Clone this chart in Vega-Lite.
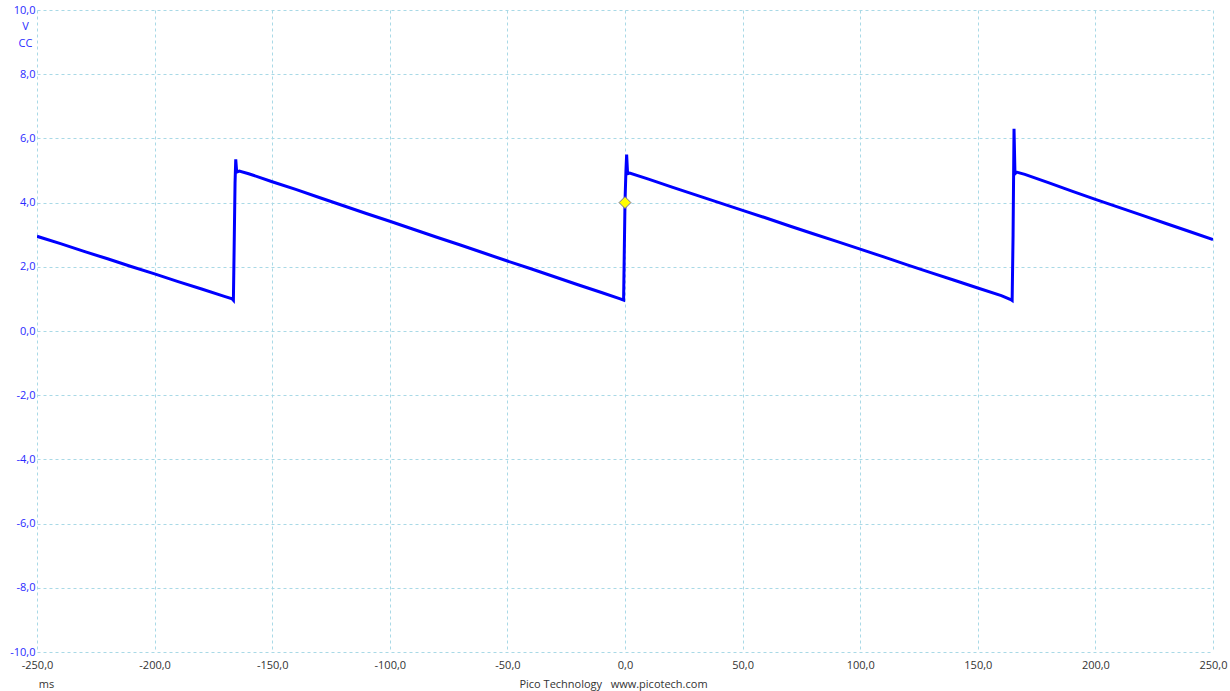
{
  "$schema": "https://vega.github.io/schema/vega-lite/v6.json",
  "autosize": {"type": "none"},
  "padding": {"left": 37, "top": 10, "right": 17, "bottom": 39},
  "width": 1176,
  "height": 642,
  "background": "white",
  "config": {"view": {"stroke": null}, "font": "Open Sans"},
  "datasets": {
    "wave": [
      {"t": -250, "v": 2.95}, {"t": -240, "v": 2.72}, {"t": -230, "v": 2.48}, {"t": -220, "v": 2.25},
      {"t": -210, "v": 2.01}, {"t": -200, "v": 1.78}, {"t": -190, "v": 1.54}, {"t": -180, "v": 1.31},
      {"t": -170, "v": 1.07}, {"t": -167, "v": 1.0}, {"t": -166.5, "v": 0.96}, {"t": -166.2, "v": 2.5},
      {"t": -165.8, "v": 4.6}, {"t": -165.5, "v": 5.35}, {"t": -165.1, "v": 4.95}, {"t": -164, "v": 4.98},
      {"t": -160, "v": 4.9}, {"t": -150, "v": 4.65}, {"t": -140, "v": 4.41}, {"t": -130, "v": 4.16},
      {"t": -120, "v": 3.91}, {"t": -110, "v": 3.66}, {"t": -100, "v": 3.42}, {"t": -90, "v": 3.17},
      {"t": -80, "v": 2.92}, {"t": -70, "v": 2.68}, {"t": -60, "v": 2.43}, {"t": -50, "v": 2.18},
      {"t": -40, "v": 1.94}, {"t": -30, "v": 1.69}, {"t": -20, "v": 1.44}, {"t": -10, "v": 1.2},
      {"t": -2, "v": 1.0}, {"t": -0.6, "v": 0.96}, {"t": 0, "v": 4.0}, {"t": 0.4, "v": 5.0},
      {"t": 0.7, "v": 5.5}, {"t": 1.1, "v": 4.9}, {"t": 2, "v": 4.92}, {"t": 10, "v": 4.73},
      {"t": 20, "v": 4.48}, {"t": 30, "v": 4.24}, {"t": 40, "v": 4.0}, {"t": 50, "v": 3.76},
      {"t": 60, "v": 3.52}, {"t": 70, "v": 3.27}, {"t": 80, "v": 3.03}, {"t": 90, "v": 2.79},
      {"t": 100, "v": 2.55}, {"t": 110, "v": 2.31}, {"t": 120, "v": 2.06}, {"t": 130, "v": 1.82},
      {"t": 140, "v": 1.58}, {"t": 150, "v": 1.34}, {"t": 160, "v": 1.1}, {"t": 164, "v": 0.98},
      {"t": 164.6, "v": 0.95}, {"t": 165, "v": 3.0}, {"t": 165.4, "v": 6.3}, {"t": 165.8, "v": 4.9},
      {"t": 166.5, "v": 4.95}, {"t": 170, "v": 4.88}, {"t": 180, "v": 4.62}, {"t": 190, "v": 4.36},
      {"t": 200, "v": 4.1}, {"t": 210, "v": 3.85}, {"t": 220, "v": 3.6}, {"t": 230, "v": 3.35},
      {"t": 240, "v": 3.1}, {"t": 250, "v": 2.85}
    ],
    "marker": [{"t": 0, "v": 4.0}]
  },
  "resolve": {"axis": {"x": "independent", "y": "independent"}},
  "layer": [
    {
      "data": {"name": "wave"},
      "mark": {"type": "line", "color": "#0000ff", "strokeWidth": 3, "clip": true},
      "encoding": {
        "x": {
          "field": "t", "type": "quantitative",
          "scale": {"domain": [-250, 250], "nice": false, "zero": false},
          "axis": {
            "orient": "bottom",
            "values": [-250, -200, -150, -100, -50, 0, 50, 100, 150, 200, 250],
            "format": ".1f",
            "labelExpr": "replace(replace(datum.label, '.', ','), '\u2212', '-')",
            "labelFlush": false,
            "labelColor": "#333333",
            "labelFontSize": 11,
            "labelFont": "Open Sans",
            "labelPadding": 7,
            "ticks": false,
            "domain": false,
            "grid": true,
            "gridColor": "#a9d9e6",
            "gridDash": [3, 3],
            "gridWidth": 1,
            "title": "Pico Technology\u00a0\u00a0\u00a0www.picotech.com",
            "titleX": 576,
            "titleY": 32,
            "titleAlign": "center",
            "titleBaseline": "middle",
            "titleColor": "#333333",
            "titleFont": "Open Sans",
            "titleFontSize": 11,
            "titleFontWeight": "normal"
          }
        },
        "y": {
          "field": "v", "type": "quantitative",
          "scale": {"domain": [-10, 10], "nice": false, "zero": false},
          "axis": {
            "orient": "left",
            "values": [-10, -8, -6, -4, -2, 0, 2, 4, 6, 8, 10],
            "format": ".1f",
            "labelExpr": "replace(replace(datum.label, '.', ','), '\u2212', '-')",
            "labelFlush": false,
            "labelColor": "#2a2aff",
            "labelFontSize": 11,
            "labelFont": "Open Sans",
            "labelPadding": 2,
            "ticks": false,
            "domain": false,
            "grid": true,
            "gridColor": "#a9d9e6",
            "gridDash": [3, 3],
            "gridWidth": 1,
            "title": ["V", "CC"],
            "titleAngle": 0,
            "titleX": -12,
            "titleY": 10,
            "titleAlign": "center",
            "titleBaseline": "top",
            "titleLineHeight": 17,
            "titleColor": "#2a2aff",
            "titleFont": "Open Sans",
            "titleFontSize": 11,
            "titleFontWeight": "normal"
          }
        }
      }
    },
    {
      "data": {"name": "marker"},
      "mark": {"type": "point", "shape": "diamond", "filled": true, "fill": "#ffff00", "stroke": "#6f6f99", "strokeWidth": 1, "size": 140, "opacity": 1},
      "encoding": {
        "x": {
          "field": "t", "type": "quantitative",
          "scale": {"domain": [-250, 250], "nice": false, "zero": false},
          "axis": {
            "orient": "bottom",
            "labels": false, "ticks": false, "domain": false, "grid": false,
            "title": "ms",
            "titleX": 9,
            "titleY": 32,
            "titleAlign": "center",
            "titleBaseline": "middle",
            "titleColor": "#333333",
            "titleFont": "Open Sans",
            "titleFontSize": 11,
            "titleFontWeight": "normal"
          }
        },
        "y": {
          "field": "v", "type": "quantitative",
          "scale": {"domain": [-10, 10], "nice": false, "zero": false},
          "axis": null
        }
      }
    }
  ]
}
